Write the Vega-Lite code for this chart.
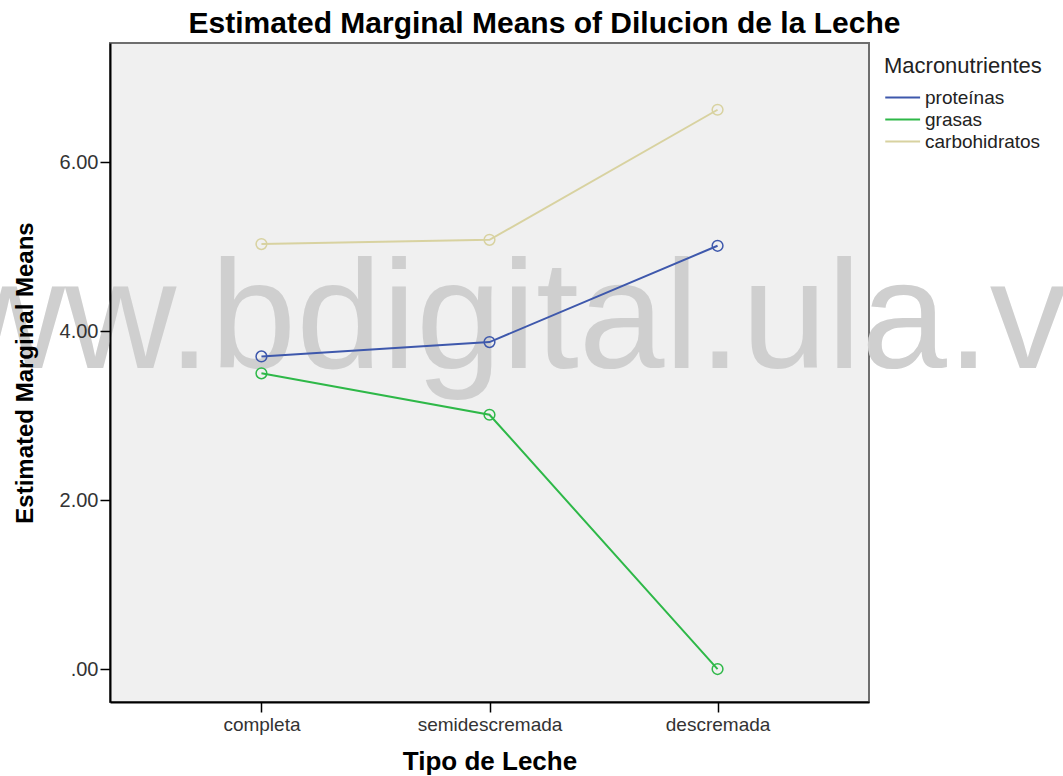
{
  "$schema": "https://vega.github.io/schema/vega-lite/v6.json",
  "autosize": {"type": "none"},
  "width": 759,
  "height": 659,
  "padding": {"left": 110, "top": 43, "right": 194, "bottom": 74},
  "background": "#ffffff",
  "title": {
    "text": "Estimated Marginal Means of Dilucion de la Leche",
    "font": "Liberation Sans",
    "fontSize": 30,
    "fontWeight": "bold",
    "color": "#000000",
    "anchor": "middle",
    "frame": "group",
    "offset": 4,
    "dx": 55
  },
  "config": {
    "font": "Liberation Sans",
    "view": {"fill": "#f0f0f0", "stroke": "#6e6e6e", "strokeWidth": 2}
  },
  "resolve": {"axis": {"x": "independent", "y": "independent"}},
  "datasets": {
    "means": [
      {"tipo": "completa", "macro": "proteínas", "media": 3.70},
      {"tipo": "semidescremada", "macro": "proteínas", "media": 3.87},
      {"tipo": "descremada", "macro": "proteínas", "media": 5.01},
      {"tipo": "completa", "macro": "grasas", "media": 3.50},
      {"tipo": "semidescremada", "macro": "grasas", "media": 3.01},
      {"tipo": "descremada", "macro": "grasas", "media": 0.0},
      {"tipo": "completa", "macro": "carbohidratos", "media": 5.03},
      {"tipo": "semidescremada", "macro": "carbohidratos", "media": 5.08},
      {"tipo": "descremada", "macro": "carbohidratos", "media": 6.62}
    ],
    "marca": [
      {"texto": "www.bdigital.ula.ve"}
    ]
  },
  "layer": [
    {
      "data": {"name": "marca"},
      "mark": {
        "type": "text",
        "font": "Liberation Sans",
        "fontSize": 154,
        "fill": "#cfcfcf",
        "align": "center",
        "baseline": "alphabetic",
        "dx": 8
      },
      "encoding": {
        "x": {"datum": "semidescremada", "type": "nominal", "scale": {"type": "point", "padding": 0.664, "domain": ["completa", "semidescremada", "descremada"]}, "axis": null},
        "y": {"datum": 3.56, "type": "quantitative", "scale": {"domain": [-0.39, 7.41], "nice": false, "zero": false}, "axis": null},
        "text": {"field": "texto", "type": "nominal"}
      }
    },
    {
      "data": {"name": "means"},
      "encoding": {
        "x": {
          "field": "tipo",
          "type": "nominal",
          "sort": ["completa", "semidescremada", "descremada"],
          "scale": {"type": "point", "padding": 0.664, "domain": ["completa", "semidescremada", "descremada"]},
          "axis": {
            "title": "Tipo de Leche",
            "labelAngle": 0,
            "labelAlign": "center",
            "labelFontSize": 19,
            "labelColor": "#333333",
            "labelPadding": 3,
            "ticks": true,
            "tickSize": 10,
            "tickWidth": 1.5,
            "tickOpacity": 1,
            "tickColor": "#000000",
            "domainColor": "#000000",
            "domainWidth": 2,
            "titleFontSize": 26,
            "titleFontWeight": "bold",
            "titleColor": "#000000",
            "titlePadding": 14,
            "zindex": 1
          }
        },
        "y": {
          "field": "media",
          "type": "quantitative",
          "scale": {"domain": [-0.39, 7.41], "nice": false, "zero": false},
          "axis": {
            "title": "Estimated Marginal Means",
            "values": [0, 2, 4, 6],
            "labelExpr": "datum.value == 0 ? '.00' : format(datum.value, '.2f')",
            "labelFontSize": 20,
            "labelColor": "#333333",
            "labelPadding": 2,
            "tickSize": 10,
            "tickWidth": 1.5,
            "tickColor": "#000000",
            "domainColor": "#000000",
            "domainWidth": 2,
            "grid": false,
            "titleFontSize": 24,
            "titleFontWeight": "bold",
            "titleColor": "#000000",
            "titlePadding": 22,
            "zindex": 1
          }
        },
        "color": {
          "field": "macro",
          "type": "nominal",
          "sort": ["proteínas", "grasas", "carbohidratos"],
          "scale": {
            "domain": ["proteínas", "grasas", "carbohidratos"],
            "range": ["#3e58ac", "#2eb848", "#d8d2a0"]
          },
          "legend": {
            "title": "Macronutrientes",
            "orient": "none",
            "legendX": 774,
            "legendY": 13,
            "symbolType": "M-1,0H2.4",
            "symbolSize": 420,
            "symbolStrokeWidth": 2,
            "titleFontSize": 22,
            "titleFontWeight": "normal",
            "titleColor": "#222222",
            "titlePadding": 8,
            "labelFontSize": 19,
            "labelColor": "#222222",
            "labelOffset": 18,
            "rowPadding": 0
          }
        }
      },
      "layer": [
        {"mark": {"type": "line", "strokeWidth": 2}},
        {"mark": {"type": "point", "filled": false, "size": 115, "strokeWidth": 1.5, "opacity": 1}}
      ]
    }
  ]
}
